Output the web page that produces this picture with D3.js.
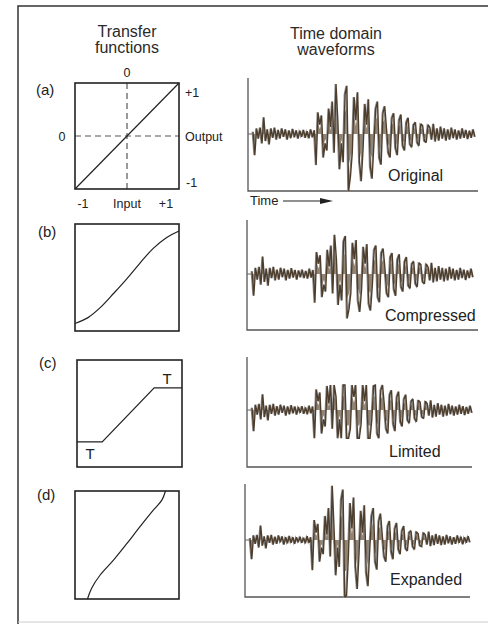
<!DOCTYPE html>
<html>
<head>
<meta charset="utf-8">
<script src="https://cdn.jsdelivr.net/npm/d3@7"></script>
<style>
  body { margin: 0; background: #fff; }
  svg { display: block; font-family: "Liberation Sans", Arial, sans-serif; }
</style>
</head>
<body>
<div id="chart"></div>
<script>
// panel letters and waveform names
const panelLetters = ["(a)", "(b)", "(c)", "(d)"];
const waveNames = ["Original", "Compressed", "Limited", "Expanded"];

// transfer functions (input -> output, both -1..+1)
const tfInputs = [
  [-1, 1],
  [-1, -0.75, -0.5, -0.25, 0, 0.25, 0.5, 0.75, 1],
  [-1, -0.52, 0.47, 1],
  [-0.76, -0.68, -0.52, -0.26, 0, 0.25, 0.51, 0.67, 0.74]
];
const tfOutputs = [
  [-1, 1],
  [-0.86, -0.75, -0.55, -0.29, -0.02, 0.27, 0.54, 0.74, 0.87],
  [-0.53, -0.53, 0.48, 0.48],
  [-1, -0.8, -0.56, -0.28, 0.03, 0.34, 0.65, 0.83, 1]
];

// waveform samples (percent of full scale)
const original = [5,-45,12,-10,14,-20,36,-15,10,-22,12,-8,14,-12,9,-10,12,-6,10,-12,8,-9,11,-7,8,-10,7,-6,9,-8,6,-9,10,-7,8,
  -66,47,20,40,-50,-20,-35,55,15,70,-40,108,30,-75,-20,-60,85,104,-121,-90,-40,80,30,90,-60,-100,-30,65,20,75,
  -70,-95,-20,55,70,-50,-65,45,60,10,-40,-50,35,45,-30,-45,30,42,-25,-35,25,35,-22,-28,20,25,-18,-25,22,18,
  -15,-18,20,14,-12,22,-16,12,-14,16,-10,12,-14,10,-12,14,-9,10,-12,8,-10,12,-8,9,-11,7,-8,10,-6];
const compressed = [6,-47,14,-12,16,-23,39,-17,12,-25,14,-9,16,-14,10,-12,14,-7,12,-14,9,-10,13,-8,9,-12,8,-7,10,-9,7,-10,12,-8,9,
  -62,49,23,42,-50,-23,-38,54,17,64,-42,88,33,-67,-23,-57,73,85,-96,-76,-42,70,33,76,-57,-82,-33,61,23,67,
  -64,-79,-23,54,64,-50,-61,47,57,12,-42,-50,38,47,-33,-47,33,44,-28,-38,28,38,-25,-31,23,28,-21,-28,25,21,
  -17,-21,23,16,-14,25,-18,14,-16,18,-12,14,-16,12,-14,16,-10,12,-14,9,-12,14,-9,10,-13,8,-9,12,-7];
const limited = [5,-45,12,-10,14,-20,36,-15,10,-22,12,-8,14,-12,9,-10,12,-6,10,-12,8,-9,11,-7,8,-10,7,-6,9,-8,6,-9,10,-7,8,
  -60,47,20,40,-50,-20,-35,55,15,57,-40,57,30,-60,-20,-60,57,57,-60,-60,-40,57,30,57,-60,-60,-30,57,20,57,
  -60,-60,-20,55,57,-50,-60,45,57,10,-40,-50,35,45,-30,-45,30,42,-25,-35,25,35,-22,-28,20,25,-18,-25,22,18,
  -15,-18,20,14,-12,22,-16,12,-14,16,-10,12,-14,10,-12,14,-9,10,-12,8,-10,12,-8,9,-11,7,-8,10,-6];
const expanded = [4,-41,10,-8,11,-16,31,-12,8,-18,10,-6,11,-10,7,-8,10,-5,8,-10,6,-7,9,-6,6,-8,6,-5,7,-6,5,-7,8,-6,6,
  -64,43,16,35,-46,-16,-30,52,12,69,-35,117,25,-75,-16,-57,87,109,-121,-118,-35,80,25,92,-57,-104,-25,63,16,75,
  -69,-98,-16,52,69,-46,-63,41,57,8,-35,-46,30,41,-25,-41,25,37,-20,-30,20,30,-18,-23,16,20,-14,-20,18,14,
  -12,-14,16,11,-10,18,-13,10,-11,13,-8,10,-11,8,-10,11,-7,8,-10,6,-8,10,-6,7,-9,6,-6,8,-5];
const waves = [original, compressed, limited, expanded];

// layout of the boxes
const tfBoxes = [
  { x0: 75, x1: 179, y0: 83, y1: 189 },
  { x0: 75, x1: 179, y0: 224, y1: 331 },
  { x0: 77, x1: 182, y0: 360, y1: 467 },
  { x0: 75, x1: 179, y0: 491, y1: 599 }
];
const wavePanels = [
  { ax: 248, top: 78, zero: 134, bottom: 191, x0: 253, x1: 475, axEnd: 478, lx: 388, ly: 181 },
  { ax: 247, top: 220, zero: 274, bottom: 330, x0: 252, x1: 473, axEnd: 478, lx: 385, ly: 321 },
  { ax: 247, top: 357, zero: 410, bottom: 467, x0: 252, x1: 472, axEnd: 472, lx: 389, ly: 457 },
  { ax: 245, top: 484, zero: 540, bottom: 597, x0: 250, x1: 470, axEnd: 470, lx: 390, ly: 585 }
];
const letterPos = [[36, 95], [38, 237], [39, 368], [37, 500]];

const width = 488, height = 624;
const ink = "#222";

const svg = d3.select("#chart").append("svg")
  .attr("width", width)
  .attr("height", height);

// outer frame
svg.append("path")
  .attr("d", "M18,624 L18,6 L488,6")
  .attr("fill", "none")
  .attr("stroke", "#333")
  .attr("stroke-width", 1.5);
svg.append("line")
  .attr("x1", 18).attr("x2", 488).attr("y1", 622).attr("y2", 622)
  .attr("stroke", "#ccc").attr("stroke-width", 1);

// column titles
const title = (x, lines, y) => {
  const t = svg.append("text")
    .attr("text-anchor", "middle")
    .attr("font-size", 16)
    .attr("fill", "#2a2a2a");
  lines.forEach((s, i) => t.append("tspan").attr("x", x).attr("y", y + i * 16).text(s));
};
title(127, ["Transfer", "functions"], 37);
title(336, ["Time domain", "waveforms"], 39);

// transfer function panels
tfBoxes.forEach((b, k) => {
  const x = d3.scaleLinear().domain([-1, 1]).range([b.x0, b.x1]);
  const y = d3.scaleLinear().domain([-1, 1]).range([b.y1, b.y0]);
  const g = svg.append("g");

  if (k === 0) {
    // dashed zero lines
    g.append("line")
      .attr("x1", x(0)).attr("x2", x(0)).attr("y1", b.y0).attr("y2", b.y1)
      .attr("stroke", "#555").attr("stroke-width", 1.2).attr("stroke-dasharray", "6,4");
    g.append("line")
      .attr("x1", b.x0).attr("x2", b.x1).attr("y1", y(0)).attr("y2", y(0))
      .attr("stroke", "#555").attr("stroke-width", 1.2).attr("stroke-dasharray", "6,4");
  }

  g.append("rect")
    .attr("x", b.x0).attr("y", b.y0)
    .attr("width", b.x1 - b.x0).attr("height", b.y1 - b.y0)
    .attr("fill", "none").attr("stroke", ink).attr("stroke-width", 1.6);

  const pts = tfInputs[k].map((v, i) => [v, tfOutputs[k][i]]);
  const line = d3.line()
    .x(d => x(d[0])).y(d => y(d[1]))
    .curve(k === 2 || k === 0 ? d3.curveLinear : d3.curveCatmullRom.alpha(0.5));
  g.append("path")
    .attr("d", line(pts))
    .attr("fill", "none").attr("stroke", ink).attr("stroke-width", 1.2);

  svg.append("text")
    .attr("x", letterPos[k][0]).attr("y", letterPos[k][1])
    .attr("font-size", 15).attr("fill", ink)
    .text(panelLetters[k]);

  if (k === 0) {
    const lab = (tx, ty, s, anchor) => g.append("text")
      .attr("x", tx).attr("y", ty)
      .attr("text-anchor", anchor)
      .attr("font-size", 12.5).attr("fill", ink)
      .text(s);
    lab(x(0), 77, "0", "middle");
    lab(62, y(0) + 5, "0", "middle");
    lab(185, 97, "+1", "start");
    lab(185, y(0) + 5, "Output", "start");
    lab(186, 187, "-1", "start");
    lab(x(-1) + 8, 208, "-1", "middle");
    lab(x(0), 208, "Input", "middle");
    lab(x(1) - 13, 208, "+1", "middle");
  }
  if (k === 2) {
    g.append("text").attr("x", 167).attr("y", 384)
      .attr("text-anchor", "middle").attr("font-size", 15).attr("fill", ink).text("T");
    g.append("text").attr("x", 90).attr("y", 459)
      .attr("text-anchor", "middle").attr("font-size", 15).attr("fill", ink).text("T");
  }
});

// waveform panels
wavePanels.forEach((p, k) => {
  const data = waves[k];
  const x = d3.scaleLinear().domain([0, data.length - 1]).range([p.x0, p.x1]);
  const y = d3.scaleLinear().domain([-121, 0, 121]).range([p.bottom, p.zero, p.top]);
  const g = svg.append("g");

  // axes
  g.append("path")
    .attr("d", `M${p.ax},${p.top} L${p.ax},${p.bottom} L${p.axEnd},${p.bottom}`)
    .attr("fill", "none").attr("stroke", "#555").attr("stroke-width", 1.3);
  g.append("line")
    .attr("x1", p.ax).attr("x2", p.x0).attr("y1", y(0)).attr("y2", y(0))
    .attr("stroke", "#666").attr("stroke-width", 1);

  // brownish body of the trace
  const area = d3.area().x((d, i) => x(i)).y0(y(0)).y1(d => y(d * 0.55));
  g.append("path")
    .attr("d", area(data))
    .attr("fill", "#6e5a44").attr("opacity", 0.75);

  const line = d3.line().x((d, i) => x(i)).y(d => y(d));
  g.append("path")
    .attr("d", line(data))
    .attr("fill", "none").attr("stroke", "#8f8f8f").attr("stroke-width", 1.1)
    .attr("transform", "translate(-0.9,0)");
  g.append("path")
    .attr("d", line(data))
    .attr("fill", "none").attr("stroke", "#4d3d2c").attr("stroke-width", 1.4)
    .attr("stroke-linejoin", "miter").attr("stroke-miterlimit", 2);

  g.append("text")
    .attr("x", p.lx).attr("y", p.ly)
    .attr("font-size", 16).attr("fill", ink)
    .text(waveNames[k]);

  if (k === 0) {
    g.append("text").attr("x", 250).attr("y", 205)
      .attr("font-size", 13).attr("fill", ink).text("Time");
    g.append("line")
      .attr("x1", 283).attr("x2", 322).attr("y1", 201).attr("y2", 201)
      .attr("stroke", ink).attr("stroke-width", 1.2);
    g.append("path")
      .attr("d", "M320,198 L333,201 L320,204 Z")
      .attr("fill", ink);
  }
});
</script>
</body>
</html>
